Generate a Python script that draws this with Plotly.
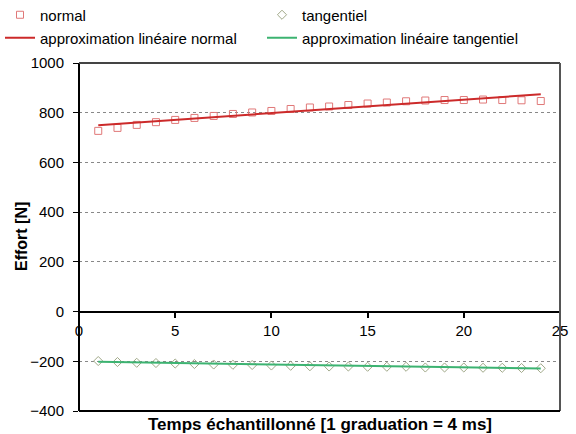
import plotly.graph_objects as go

# Echantillons (1 graduation = 4 ms)
samples = list(range(1, 25))

# Effort normal [N]
normal = [727, 739, 751, 762, 771, 779, 787, 795, 801, 807, 815, 821,
          825, 831, 837, 841, 846, 849, 851, 851, 853, 851, 850, 847]

# Effort tangentiel [N]
tangentiel = [-199, -203, -206, -207, -209, -211, -213, -214, -215, -217, -218, -220,
              -221, -221, -222, -222, -222, -225, -225, -225, -226, -226, -227, -228]

# approximations linéaires (extrémités)
fit_x = [1, 24]
fit_normal = [750, 874]
fit_tangentiel = [-202, -229]

FONT = "Liberation Sans, Arial, sans-serif"

fig = go.Figure()

fig.add_trace(go.Scatter(
    x=samples, y=normal, mode='markers', name='normal', legend='legend',
    marker=dict(symbol='square-open', size=7, color='#e07878', line=dict(width=1))
))
fig.add_trace(go.Scatter(
    x=samples, y=tangentiel, mode='markers', name='tangentiel', legend='legend2',
    marker=dict(symbol='diamond-open', size=7, color='#a0a888', line=dict(width=1))
))
fig.add_trace(go.Scatter(
    x=fit_x, y=fit_normal, mode='lines', name='approximation linéaire normal',
    legend='legend3', line=dict(color='#cc2a2a', width=2)
))
fig.add_trace(go.Scatter(
    x=fit_x, y=fit_tangentiel, mode='lines', name='approximation linéaire tangentiel',
    legend='legend4', line=dict(color='#3cb371', width=2)
))

# cadre du graphique
fig.add_shape(type='line', xref='paper', yref='paper', x0=0, x1=1, y0=1, y1=1,
              line=dict(color='#444', width=2))
fig.add_shape(type='line', xref='paper', yref='paper', x0=1, x1=1, y0=0, y1=1,
              line=dict(color='#555', width=2))
fig.add_shape(type='line', xref='paper', yref='paper', x0=0, x1=1, y0=0, y1=0,
              line=dict(color='black', width=2))

# titres des axes
fig.add_annotation(
    text='<b>Temps échantillonné [1 graduation = 4 ms]</b>',
    xref='paper', yref='paper', x=0.5, y=0, yshift=-13,
    xanchor='center', yanchor='middle',
    showarrow=False, font=dict(family=FONT, size=17, color='black')
)
fig.add_annotation(
    text='<b>Effort [N]</b>', textangle=-90,
    xref='paper', yref='paper', x=0, y=0.5, xshift=-58,
    xanchor='center', yanchor='middle',
    showarrow=False, font=dict(family=FONT, size=16, color='black')
)

legend_style = dict(
    orientation='v', yanchor='middle', xanchor='left',
    xref='container', yref='container',
    bgcolor='rgba(0,0,0,0)', tracegroupgap=0,
    font=dict(family=FONT, size=15), itemwidth=30,
)
col1 = 0.0
col2 = 262 / 576
row1 = 1 - 15 / 434
row2 = 1 - 38 / 434

fig.update_layout(
    width=576, height=434,
    margin=dict(l=79, r=16, t=63, b=23, autoexpand=False),
    paper_bgcolor='white', plot_bgcolor='white',
    font=dict(family=FONT, size=15, color='black'),
    showlegend=True,
    legend=dict(legend_style, x=col1, y=row1),
    legend2=dict(legend_style, x=col2, y=row1),
    legend3=dict(legend_style, x=col1, y=row2),
    legend4=dict(legend_style, x=col2, y=row2),
    xaxis=dict(
        range=[0, 25], dtick=5, tick0=0,
        anchor='free', position=400 / 1400,
        showline=True, linecolor='black', linewidth=2,
        ticks='outside', ticklen=5, tickwidth=2, tickcolor='black',
        showgrid=False, zeroline=False, ticklabeloverflow='allow',
        tickfont=dict(family=FONT, size=15),
    ),
    yaxis=dict(
        range=[-400, 1000], dtick=200, tick0=0,
        anchor='free', position=0,
        showline=True, linecolor='black', linewidth=2,
        ticks='outside', ticklen=5, tickwidth=1, tickcolor='black',
        ticklabelstandoff=6,
        showgrid=True, gridcolor='#888', griddash='dot', gridwidth=1,
        zeroline=False,
        tickfont=dict(family=FONT, size=15),
    ),
)

fig.write_html("out.html", config={'displayModeBar': False},
               post_script="document.body.style.margin='0';")
